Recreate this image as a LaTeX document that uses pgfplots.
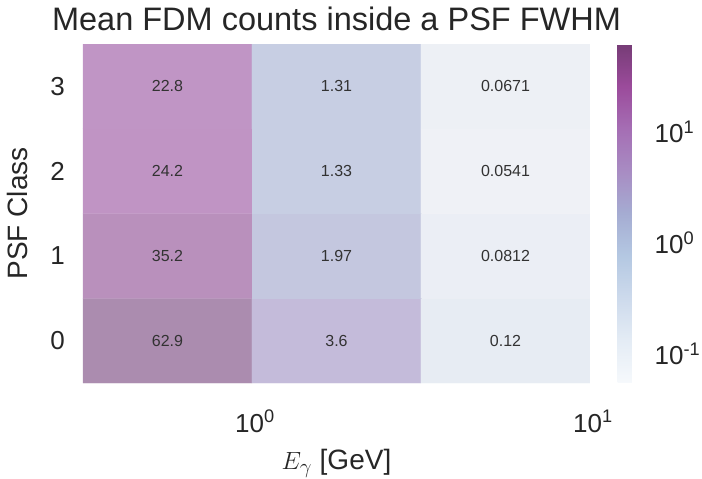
\documentclass[border=0pt]{standalone}
\usepackage{pgfplots}
\pgfplotsset{compat=1.18}
\usepackage{pgfplotstable}
\usepackage{fontspec}
\setmainfont{Liberation Sans}

\definecolor{tc}{RGB}{38,38,38}
\definecolor{annot}{RGB}{50,50,50}

% mean counts per energy bin (x = bin centre in GeV) and PSF class (y)
\pgfplotstableread{
x        y  v
0.562341 0  62.9
1.778279 0  3.6
5.623413 0  0.12
0.562341 1  35.2
1.778279 1  1.97
5.623413 1  0.0812
0.562341 2  24.2
1.778279 2  1.33
5.623413 2  0.0541
0.562341 3  22.8
1.778279 3  1.31
5.623413 3  0.0671
}\cells

\begin{document}
\begin{tikzpicture}
\begin{axis}[
  name=main,
  scale only axis,
  width=507pt, height=339pt,
  xmode=log,
  xmin=0.316228, xmax=10,
  ymin=-0.5, ymax=3.5,
  xtick={1,10},
  xticklabels={10\textsuperscript{0},10\textsuperscript{1}},
  minor xtick={},
  ytick={0,1,2,3},
  yticklabels={0,1,2,3},
  axis line style={draw=none},
  tick style={draw=none},
  major tick length=0pt, minor tick length=0pt,
  ticklabel style={font=\fontsize{26}{31}\selectfont, text=tc, inner sep=0pt},
  xticklabel style={anchor=base, yshift=-49pt, xshift=3pt},
  yticklabel style={anchor=east, xshift=-18pt},
  title={Mean FDM counts inside a PSF FWHM},
  title style={font=\fontsize{32.5}{39}\selectfont, text=tc, anchor=base,
    at={(axis description cs:0.5,1.022)}, inner sep=0pt},
  xlabel={$E_\gamma$ [GeV]},
  xlabel style={font=\fontsize{28}{33}\selectfont, text=tc, anchor=base,
    at={(axis description cs:0.5,-0.2566)}, inner sep=0pt},
  ylabel={PSF Class},
  ylabel style={font=\fontsize{28}{33}\selectfont, text=tc, anchor=base,
    at={(axis description cs:-0.109,0.5)}, inner sep=0pt},
  colormap={cellmap}{
    rgb255=(239,241,246) rgb255=(230,235,243) rgb255=(217,225,237)
    rgb255=(204,216,232) rgb255=(196,200,224) rgb255=(196,183,216)
    rgb255=(195,166,208) rgb255=(192,146,195) rgb255=(171,140,175)},
  point meta min=-1.2668, point meta max=1.7987,
  colorbar,
  colorbar style={
    colormap={barmap}{
      rgb255=(246,249,252) rgb255=(228,236,245) rgb255=(205,218,236)
      rgb255=(180,200,226) rgb255=(165,172,210) rgb255=(168,140,195)
      rgb255=(165,110,180) rgb255=(155,75,155) rgb255=(118,60,118)},
    at={(parent axis.north east)}, anchor=north west, xshift=19pt,
    scale only axis,
    width=18pt,
    axis line style={draw=none},
    tick style={draw=none},
    major tick length=0pt,
    ytick={-1,0,1},
    yticklabels={10\textsuperscript{-1},10\textsuperscript{0},10\textsuperscript{1}},
    yticklabel style={font=\fontsize{26}{31}\selectfont, text=tc,
      anchor=west, inner sep=0pt, xshift=19pt},
  },
]
\addplot[matrix plot*, mesh/cols=3, point meta={log10(\thisrow{v})}]
  table[x=x, y=y] {\cells};
\addplot[only marks, mark=none, nodes near coords,
  point meta=explicit symbolic,
  every node near coord/.append style={anchor=center,
    font=\fontsize{16}{19}\selectfont, text=annot}]
  table[x=x, y=y, meta=v] {\cells};
\end{axis}
\pgfresetboundingbox
\path[use as bounding box] (-83pt,-96pt) rectangle (619pt,383pt);
\end{tikzpicture}
\end{document}
